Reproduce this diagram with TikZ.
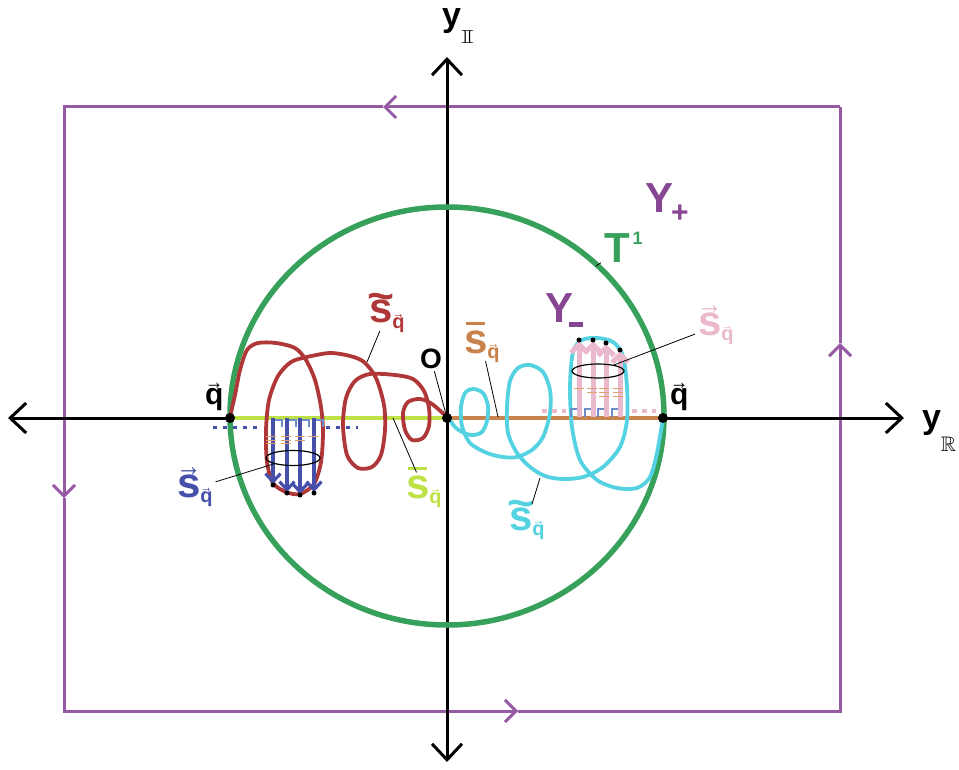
\documentclass[tikz,border=0pt]{standalone}
\usepackage{amssymb}
\usepackage{graphicx}
\usepackage{fontspec}
\setmainfont{Liberation Sans}
\usetikzlibrary{arrows.meta, positioning, shapes.geometric}
\definecolor{rectpurple}{RGB}{150,90,165}
\definecolor{labpurple}{RGB}{135,70,145}
\definecolor{torgreen}{RGB}{55,160,90}
\definecolor{curvered}{RGB}{175,55,55}
\definecolor{curvecyan}{RGB}{85,210,225}
\definecolor{segyellow}{RGB}{190,225,70}
\definecolor{segorange}{RGB}{200,130,75}
\definecolor{arrblue}{RGB}{70,80,170}
\definecolor{arrpink}{RGB}{235,185,205}
\definecolor{hookblue}{RGB}{110,140,200}
\definecolor{tickorange}{RGB}{225,160,110}
\newcommand\topacc[3]{{\ooalign{#3\cr\hidewidth\raisebox{#2}{#1}\hidewidth\cr}}}
\newcommand\harr{\scalebox{0.6}[0.75]{→}}
\newcommand\vecq{\topacc{\harr}{0.5em}{q}}
\newcommand\subq{\raisebox{-0.12em}{\fontsize{20}{20}\selectfont\vecq}}
\newcommand\stil{\topacc{\scalebox{1.1}[1]{\textasciitilde}}{0.3em}{s}}
\newcommand\sbar{\topacc{\rule{0.45em}{0.09em}}{0.66em}{s}}
\newcommand\svec{\topacc{\harr}{0.5em}{s}}
\tikzset{
  axis/.style={line width=3pt, {Straight Barb[length=16pt,width=30pt]}-{Straight Barb[length=16pt,width=30pt]}},
  frame/.style={line width=3pt, draw=rectpurple, -{Straight Barb[length=11pt,width=22pt]}},
  lbl/.style={anchor=base west, inner sep=0pt, outer sep=3pt, font=\bfseries\fontsize{42}{42}\selectfont},
  leader/.style={line width=0.8pt},
  dot/.style={circle, fill=black, inner sep=0pt, minimum size=10pt},
  tip/.style={circle, fill=black, inner sep=0pt, minimum size=5pt},
  coil/.style={line width=3.8pt, line join=round, line cap=round},
  ring/.style={ellipse, draw, line width=1.2pt, inner sep=0pt, minimum width=54pt, minimum height=15pt}
}
\begin{document}
\begin{tikzpicture}[x=1pt, y=-1pt]
  \useasboundingbox (0,0) rectangle (959,770);
  % contour round the picture
  \draw[frame] (840,107) -- (383,107);
  \draw[frame] (383,107) -- (64,107) -- (64,498);
  \draw[frame] (64,498) -- (64,711) -- (518,711);
  \draw[frame] (518,711) -- (840,711) -- (840,343);
  \draw[line width=3pt, rectpurple] (840,343) -- (840,107);

  \coordinate (xl) at (8,418);
  \coordinate (xr) at (904,418);
  \coordinate (yt) at (447,57);
  \coordinate (yb) at (447,762);
  \draw[axis] (xl) -- (xr);
  \draw[axis] (yb) -- (yt);

  \draw[torgreen, line width=5.5pt] (447,416) ellipse [x radius=217, y radius=209];

  \coordinate (ql) at (230,418);
  \coordinate (O)  at (447,418);
  \coordinate (qr) at (663,418);
  \draw[segyellow, line width=4pt] (ql) -- (O);
  \draw[segorange, line width=4pt] (O) -- (qr);

  % left coil
  \draw[coil, curvered] plot[smooth] coordinates {(230,417) (235,395) (240,370) (247,350)
    (258,343) (276,343) (295,348) (306,360) (315,380) (321,407) (323,432) (321,462)
    (314,484) (300,494) (286,492) (273,483) (267,462) (266,430) (269,400) (278,376)
    (291,362) (307,357) (330,353) (350,356) (364,362) (376,378) (384,405) (385,430)
    (381,455) (372,467) (358,468) (347,455) (343,425) (346,398) (355,381) (370,374)
    (395,375) (413,379) (424,391) (429,408) (429,426) (423,438) (412,440) (405,430)
    (403,413) (408,402) (420,399) (432,404) (447,417)};
  % right coil
  \draw[coil, curvecyan] plot[smooth] coordinates {(448,417) (455,427) (464,433) (473,435)
    (482,432) (487,421) (488,406) (483,393) (473,389) (465,393) (461,407) (462,426)
    (470,443) (487,453) (503,457) (517,457) (532,450) (543,437) (550,413) (550,390)
    (543,372) (530,365) (518,368) (510,381) (507,407) (508,433) (517,453) (530,467)
    (545,476) (562,479) (583,477) (603,467) (620,447) (627,420) (627,387) (623,356)
    (613,342) (597,338) (582,340) (573,352) (570,387) (572,427) (580,460) (597,480)
    (617,488) (637,488) (650,477) (657,453) (663,418)};

  % fibres below the axis
  \draw[arrblue, line width=3pt, dash pattern=on 4pt off 6pt] (213,427) -- (262,427);
  \draw[arrblue, line width=3pt, dash pattern=on 4pt off 6pt] (326,427) -- (358,427);
  \foreach \x/\y in {273/485, 287/493, 300/495, 314/493} {
    \draw[hookblue, line width=1.2pt] (\x+1,427) -- (\x+1,420) -- (\x+9,420) -- (\x+9,427);
    \draw[arrblue, line width=3.2pt, -{Straight Barb[length=8pt,width=15pt]}] (\x,418) -- (\x,\y-1);
    \node[tip] at (\x,\y) {};
  }
  \foreach \x/\n in {271/3, 286/3, 300/2, 313/1}
    \foreach \k in {1,...,\n}
      \draw[tickorange, line width=1pt] (\x-5,433+3.5*\k) -- ++(10,0);
  \node[ring] (ring-l) at (293,458) {};

  % fibres above the axis
  \draw[arrpink, line width=4pt, dash pattern=on 5pt off 5pt] (542,411) -- (566,411);
  \draw[arrpink, line width=4pt, dash pattern=on 5pt off 5pt] (632,411) -- (656,411);
  \foreach \x/\y in {579/340, 593/340, 606/343, 620/350} {
    \draw[hookblue, line width=1.2pt] (\x-8,417) -- (\x-8,409) -- (\x,409);
    \draw[arrpink, line width=5pt, -{Straight Barb[length=8pt,width=16pt]}] (\x,417) -- (\x,\y+1);
    \node[tip] at (\x,\y) {};
  }
  \foreach \x/\n in {579/1, 592/2, 604/3, 618/3}
    \foreach \k in {1,...,\n}
      \draw[tickorange, line width=1pt] (\x-5,385+3.8*\k) -- ++(10,0);
  \node[ring, minimum width=52pt, minimum height=14pt] (ring-r) at (598,371) {};

  \node[dot] (dot-ql) at (ql) {};
  \node[dot] (dot-o)  at (O) {};
  \node[dot] (dot-qr) at (qr) {};

  % labels
  \node[lbl, font=\bfseries\fontsize{34}{34}\selectfont] (lab-yi) at (439,27)
    {y\raisebox{-0.5em}{\fontsize{17}{17}\selectfont\scalebox{2}[1.1]{$\mathbb{I}$}}};
  \node[lbl, font=\bfseries\fontsize{34}{34}\selectfont] (lab-yr) at (919,428)
    {y\raisebox{-0.68em}{\fontsize{21}{21}\selectfont$\mathbb{R}$}};
  \node[lbl, labpurple] (lab-yp) at (642,213)
    {Y\kern-2pt\raisebox{-0.22em}{\fontsize{30}{30}\selectfont+}};
  \node[lbl, torgreen] (lab-t) at (601,263)
    {T\raisebox{0.43em}{\fontsize{18}{18}\selectfont\,1}};
  \node[lbl, labpurple] (lab-ym) at (542,323) {Y\kern-4pt\rule[-4pt]{14pt}{4.5pt}};
  \node[lbl, font=\bfseries\fontsize{28}{28}\selectfont] (lab-o) at (417,368) {O};
  \node[lbl, font=\bfseries\fontsize{30}{30}\selectfont] (lab-ql) at (202,404) {\vecq};
  \node[lbl, font=\bfseries\fontsize{30}{30}\selectfont] (lab-qr) at (667,404) {\vecq};
  \node[lbl, curvered] (lab-st) at (366,323) {\stil\subq};
  \node[lbl, segyellow] (lab-sy) at (403,498) {\sbar\subq};
  \node[lbl, arrblue] (lab-sv) at (174,497) {\svec\subq};
  \node[lbl, segorange] (lab-so) at (461,353) {\sbar\subq};
  \node[lbl, curvecyan] (lab-sc) at (506,530) {\stil\subq};
  \node[lbl, arrpink] (lab-sp) at (695,335) {\svec\subq};

  \coordinate (c-st) at (367,362);
  \coordinate (c-sy) at (393,418);
  \coordinate (c-so) at (498,417);
  \coordinate (c-sc) at (540,478);
  \coordinate (c-t)  at (596,266);
  \draw[leader] (lab-st) -- (c-st);
  \draw[leader] (lab-o)  -- (dot-o);
  \draw[leader] (lab-sy) -- (c-sy);
  \draw[leader] (lab-so) -- (c-so);
  \draw[leader] (lab-sc) -- (c-sc);
  \draw[leader] (lab-t)  -- (c-t);
  \draw[leader] (lab-sv) -- (ring-l);
  \draw[leader] (lab-sp) -- (ring-r);
\end{tikzpicture}
\end{document}
